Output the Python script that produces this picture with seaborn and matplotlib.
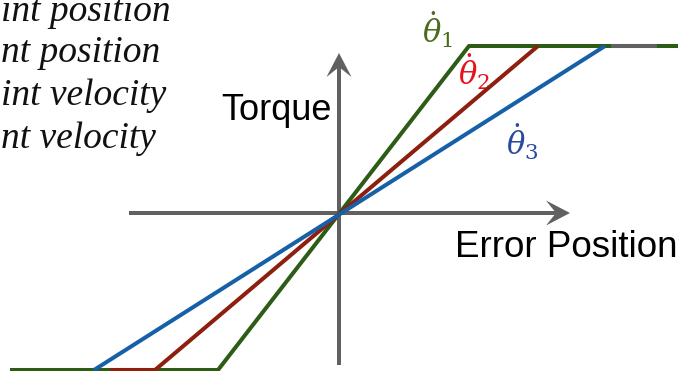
import matplotlib
matplotlib.use("Agg")
import matplotlib.pyplot as plt
import matplotlib.patches as mpatches
import seaborn as sns

# Torque-vs-error curves: piecewise linear, saturating at the torque limits.
# Units are relative to the origin of the sketch.
green_x = [-329, -121, 130, 339]
green_y = [-157, -157, 167, 167]
red_x = [-229, -184, 199]
red_y = [-157, -157, 167]
blue_x = [-245, 266]
blue_y = [-157, 167]
grey_x = [272, 318]
grey_y = [167, 167]

curve_labels = [r"$\dot{\theta}_1$", r"$\dot{\theta}_2$", r"$\dot{\theta}_3$"]
curve_label_xy = [(99, 183), (135, 141), (183, 71)]
curve_label_colors = ["#4a6a1e", "#e8101c", "#2a4aa0"]

legend_rows = ["int position", "nt position", "int velocity", "nt velocity"]
legend_baselines = [192, 151, 108, 65]

GREEN = "#2d5c17"
RED = "#8e1e0e"
BLUE = "#1660a8"
GREY = "#616161"

sns.set_theme(style="white")
plt.rcParams["font.family"] = ["Liberation Sans", "DejaVu Sans"]
plt.rcParams["mathtext.fontset"] = "dejavuserif"

fig = plt.figure(figsize=(6.81, 3.71), dpi=100)
ax = fig.add_axes([0, 0, 1, 1])
ax.set_xlim(-339, 342)
ax.set_ylim(-158, 213)
ax.set_aspect("equal")
ax.axis("off")

# Coordinate axes with arrow heads
arrow_kw = dict(width=4, head_width=25, head_length=24, overhang=0.35,
                length_includes_head=True, color=GREY, lw=0, zorder=1)
ax.add_patch(mpatches.FancyArrow(-210, 0, 441, 0, **arrow_kw))
ax.add_patch(mpatches.FancyArrow(0, -152, 0, 312, **arrow_kw))

lw = 2.9
sns.lineplot(x=green_x, y=green_y, sort=False, color=GREEN, lw=lw, ax=ax, zorder=3)
sns.lineplot(x=red_x, y=red_y, sort=False, color=RED, lw=lw, ax=ax, zorder=4)
sns.lineplot(x=blue_x, y=blue_y, sort=False, color=BLUE, lw=lw, ax=ax, zorder=5)
sns.lineplot(x=grey_x, y=grey_y, sort=False, color=GREY, lw=lw, ax=ax, zorder=6)
for line in ax.lines:
    line.set_solid_capstyle("butt")

for lab, (lx, ly), c in zip(curve_labels, curve_label_xy, curve_label_colors):
    ax.text(lx, ly, lab, color=c, fontsize=22, ha="center", va="center")

ax.text(-7, 93, "Torque", fontsize=26, ha="right", va="baseline", color="black")
ax.text(116, -44, "Error Position", fontsize=26.5, ha="left", va="baseline", color="black")

for row, base in zip(legend_rows, legend_baselines):
    ax.text(-338, base, row, fontsize=27, style="italic", ha="left", va="baseline",
            family=["Liberation Serif", "DejaVu Serif"], color="#111111")

fig.savefig("out.png", dpi=100)
